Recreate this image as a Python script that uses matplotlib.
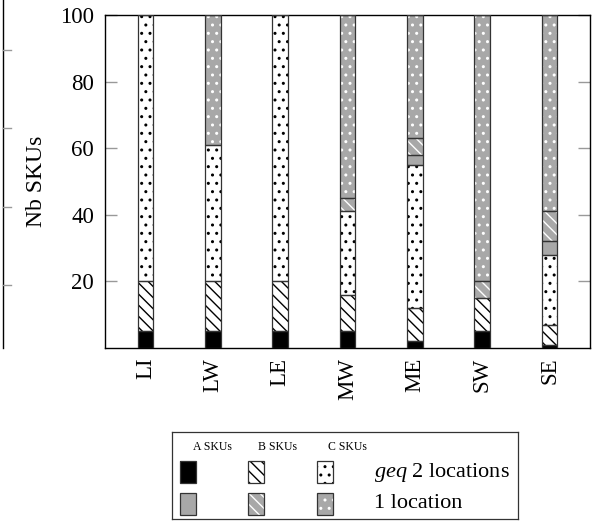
import matplotlib
matplotlib.use("Agg")
import matplotlib.pyplot as plt
from matplotlib.patches import Rectangle
from matplotlib.lines import Line2D
import numpy as np

plt.rcParams['font.family'] = ['Liberation Serif', 'DejaVu Serif']
plt.rcParams['mathtext.fontset'] = 'custom'
plt.rcParams['mathtext.rm'] = 'Liberation Serif'
plt.rcParams['mathtext.it'] = 'Liberation Serif:italic'
plt.rcParams['hatch.linewidth'] = 1.0

categories = ['LI', 'LW', 'LE', 'MW', 'ME', 'SW', 'SE']
a_multi = [5, 5, 5, 5, 2, 5, 1]
b_multi = [15, 15, 15, 11, 10, 10, 6]
c_multi = [80, 41, 80, 25, 43, 0, 21]
a_single = [0, 0, 0, 0, 3, 0, 4]
b_single = [0, 0, 0, 4, 5, 5, 9]
c_single = [0, 39, 0, 55, 37, 80, 59]
yticks = [20, 40, 60, 80, 100]
col_headers = ['A SKUs', 'B SKUs', 'C SKUs']
row_labels = ['$geq$ 2 locations', '1 location']

GRAY = '#a8a8a8'
EDGE = '#333333'
# (fill, hatch color, hatch)
styles = [
    ('black', 'black', None),
    ('white', 'black', '\\\\\\'),
    ('white', 'black', '..'),
    (GRAY, GRAY, None),
    (GRAY, 'white', '\\\\\\'),
    (GRAY, 'white', '..'),
]
series = [a_multi, b_multi, c_multi, a_single, b_single, c_single]

W, H = 603, 530
FS = 16.5
fig = plt.figure(figsize=(W / 100, H / 100), dpi=100)
ax = fig.add_axes([105 / W, 1 - 348 / H, (590 - 105) / W, (348 - 15) / H])

x = np.arange(len(categories))
bw = 0.23
bottom = np.zeros(len(categories))
for vals, (fc, hc, hatch) in zip(series, styles):
    v = np.array(vals, dtype=float)
    ax.bar(x, v, bw, bottom=bottom, color=fc, edgecolor=hc, linewidth=0,
           hatch=hatch, zorder=2)
    ax.bar(x, v, bw, bottom=bottom, fill=False, edgecolor=EDGE,
           linewidth=np.where(v > 0, 0.9, 0.0), zorder=3)
    bottom += v

ax.set_xlim(-0.6, len(categories) - 0.4)
ax.set_ylim(0, 100)
ax.set_yticks(yticks)
ax.set_xticks(x)
ax.set_xticklabels(categories, rotation=90, fontsize=FS)
ax.tick_params(axis='x', length=0, pad=7)
ax.tick_params(axis='y', direction='in', length=8.5, width=1, color='#999999',
               left=True, right=True, labelsize=FS, pad=8)
for s in ax.spines.values():
    s.set_linewidth(1.0)
    s.set_color('black')
ax.set_ylabel('Nb SKUs', fontsize=17)
ax.yaxis.set_label_coords((47 - 105) / 485, 0.5)

# clipped neighbour axis at the left edge
fig.add_artist(Line2D([2.5 / W, 2.5 / W], [1.0, 1 - 348 / H], color='black',
                      linewidth=1.0, transform=fig.transFigure))
for ty in [50, 128, 207, 285]:
    fig.add_artist(Line2D([3 / W, 11 / W], [1 - ty / H, 1 - ty / H],
                          color='#999999', linewidth=1.0,
                          transform=fig.transFigure))

# custom legend box
lx0, lx1, ly0, ly1 = 172, 518, 432, 519
lax = fig.add_axes([lx0 / W, 1 - ly1 / H, (lx1 - lx0) / W, (ly1 - ly0) / H])
lax.set_xlim(0, lx1 - lx0)
lax.set_ylim(ly1 - ly0, 0)
lax.set_xticks([])
lax.set_yticks([])
for s in lax.spines.values():
    s.set_linewidth(0.9)
    s.set_color('#333333')

header_x = [40, 106, 175]
patch_x = [8, 76, 145]
row_y = [29, 61]
pw, ph = 16, 22
for hx, txt in zip(header_x, col_headers):
    lax.text(hx, 15, txt, ha='center', va='center', fontsize=8.5)
for r in range(2):
    for c in range(3):
        fc, hc, hatch = styles[r * 3 + c]
        lax.add_patch(Rectangle((patch_x[c], row_y[r]), pw, ph, facecolor=fc,
                                edgecolor=hc, linewidth=0, hatch=hatch))
        lax.add_patch(Rectangle((patch_x[c], row_y[r]), pw, ph, fill=False,
                                edgecolor=EDGE, linewidth=0.9))
    lax.text(202, row_y[r] + ph / 2, row_labels[r], ha='left', va='center',
             fontsize=16)

fig.savefig('out.png', dpi=100)
